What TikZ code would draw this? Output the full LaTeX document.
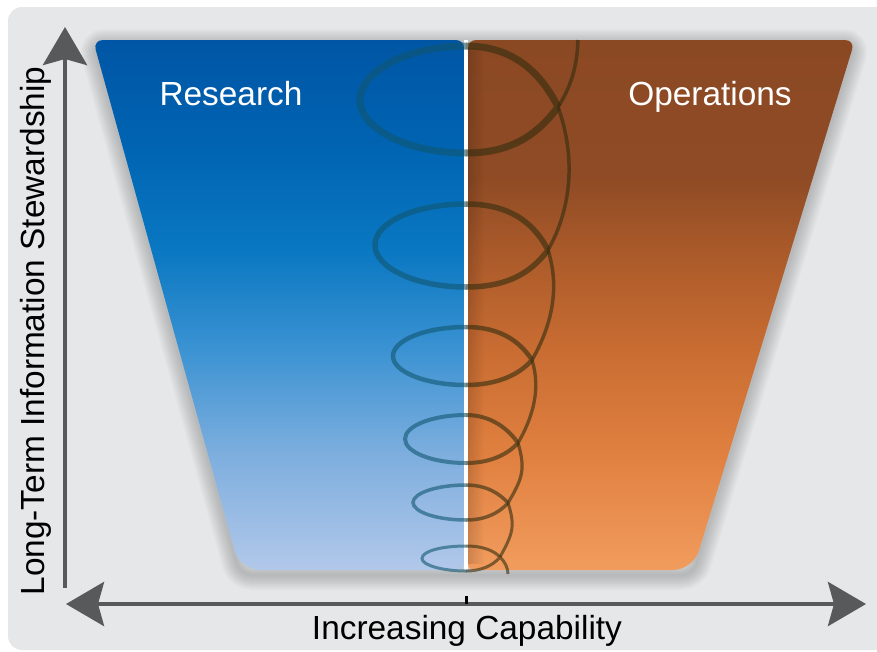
\documentclass[tikz,border=0pt]{standalone}
\usepackage{fontspec}
\setmainfont{Liberation Sans}
\usetikzlibrary{arrows.meta,fadings}

\definecolor{panelgray}{HTML}{E6E7E8}
\definecolor{axisgray}{HTML}{58595B}
\definecolor{coilteal}{HTML}{105670}
\definecolor{coilbrown}{HTML}{322D0F}

% y = 40 at 75bp, y = 570 at 25bp
\pgfdeclareverticalshading{researchfade}{100bp}{%
	color(0bp)=(rgb,255:red,178;green,200;blue,234);
	color(25bp)=(rgb,255:red,178;green,200;blue,234);
	color(36bp)=(rgb,255:red,125;green,174;blue,222);
	color(46bp)=(rgb,255:red,58;green,146;blue,210);
	color(55bp)=(rgb,255:red,10;green,120;blue,194);
	color(65bp)=(rgb,255:red,0;green,100;blue,178);
	color(75bp)=(rgb,255:red,0;green,86;blue,165);
	color(100bp)=(rgb,255:red,0;green,86;blue,165)}
\pgfdeclareverticalshading{opsfade}{100bp}{%
	color(0bp)=(rgb,255:red,241;green,156;blue,94);
	color(25bp)=(rgb,255:red,241;green,156;blue,94);
	color(36bp)=(rgb,255:red,224;green,128;blue,64);
	color(46bp)=(rgb,255:red,200;green,108;blue,50);
	color(55bp)=(rgb,255:red,170;green,90;blue,42);
	color(62bp)=(rgb,255:red,143;green,75;blue,37);
	color(75bp)=(rgb,255:red,139;green,73;blue,35);
	color(100bp)=(rgb,255:red,139;green,73;blue,35)}
\tikzfading[name=edgefade, left color=transparent!0, right color=transparent!100]

\tikzset{
	axisline/.style={axisgray, line width=4.5pt, -{Stealth[length=38pt, width=44pt, inset=6pt]}},
	bigtext/.style={font=\fontsize{33.4pt}{40pt}\selectfont, anchor=base},
	panellabel/.style={bigtext, text=white},
}

% the coil, drawn once per half
\newcommand\coilpath{%
	\draw[line width=3.5pt] (578,40) .. controls (577,65) and (572,85) .. (558,107);
	\draw[line width=7pt] (558,107) .. controls (537,135) and (511,153) .. (466,153)
		.. controls (408,153) and (360,129) .. (360,100)
		.. controls (360,71) and (408,46) .. (466,46)
		.. controls (515,46) and (542,75) .. (558,107);
	\draw[line width=3.5pt] (558,107) .. controls (575,154) and (573,206) .. (548,250);
	\draw[line width=5.5pt] (548,250) .. controls (530,274) and (506,287) .. (466,287)
		.. controls (416,287) and (375,268) .. (375,245)
		.. controls (375,222) and (416,204) .. (466,204)
		.. controls (510,204) and (534,223) .. (548,250);
	\draw[line width=3.5pt] (548,250) .. controls (560,288) and (552,325) .. (532,360);
	\draw[line width=4.5pt] (532,360) .. controls (518,376) and (495,385) .. (466,385)
		.. controls (426,385) and (393,372) .. (393,356)
		.. controls (393,340) and (426,327) .. (466,327)
		.. controls (502,327) and (521,343) .. (532,360);
	\draw[line width=3.3pt] (532,360) .. controls (541,389) and (533,417) .. (518,443);
	\draw[line width=4pt] (518,443) .. controls (506,456) and (488,463) .. (466,463)
		.. controls (432,463) and (405,452) .. (405,439)
		.. controls (405,426) and (432,415) .. (466,415)
		.. controls (492,415) and (509,430) .. (518,443);
	\draw[line width=3.2pt] (518,443) .. controls (526,470) and (522,479) .. (508,503);
	\draw[line width=3.5pt] (508,503) .. controls (498,514) and (484,520) .. (466,520)
		.. controls (437,520) and (413,512) .. (413,502.5)
		.. controls (413,493) and (437,485) .. (466,485)
		.. controls (487,485) and (500,494) .. (508,503);
	\draw[line width=3pt] (508,503) .. controls (516,527) and (512,535) .. (500,557);
	\draw[line width=3pt] (500,557) .. controls (493,566) and (480,571) .. (466,571)
		.. controls (442,571) and (422,565) .. (422,558.5)
		.. controls (422,551) and (442,546) .. (466,546)
		.. controls (484,546) and (494,551) .. (500,557)
		.. controls (505,562) and (508,568) .. (508,574);
}

\begin{document}
\begin{tikzpicture}[x=1pt, y=-1pt]
	\useasboundingbox (0,0) rectangle (877,651);
	\fill[panelgray, rounded corners=14pt] (8,7) rectangle (900,650);

	% soft shadow under the funnel
	\foreach \w in {3,6,...,30}
		\draw[black, opacity=.018, line width=\w pt, rounded corners=12pt] (93,44) -- (855,44) -- (693,575) -- (240,575) -- cycle;

	\shade[shading=researchfade]
		(300,40) [rounded corners=10pt] -- (93,40) [rounded corners=20pt] -- (240,570) [rounded corners=6pt] -- (464,570) [rounded corners=8pt] -- (464,40) -- cycle;
	\shade[shading=opsfade]
		(600,40) [rounded corners=10pt] -- (855,40) [rounded corners=20pt] -- (693,570) [rounded corners=6pt] -- (468,570) [rounded corners=8pt] -- (468,40) -- cycle;
	\fill[black, opacity=.14, path fading=edgefade] (468,48) rectangle (484,564);

	\coordinate (split-top) at (466,40);
	\coordinate (split-bot) at (466,570);
	\draw[white, line width=4pt] (split-top) -- (split-bot);

	\begin{scope}
		\clip (0,0) rectangle (466,651);
		\begin{scope}[color=coilteal, opacity=.6]
			\coilpath
		\end{scope}
	\end{scope}
	\begin{scope}
		\clip (466,0) rectangle (877,651);
		\begin{scope}[color=coilbrown, opacity=.6]
			\coilpath
		\end{scope}
	\end{scope}

	\node[panellabel] (research) at (231,105) {Research};
	\node[panellabel] (operations) at (710,105) {Operations};

	% axes
	\coordinate (vaxis-bot) at (65,588);
	\coordinate (vaxis-top) at (65,27);
	\coordinate (haxis-left) at (66,604);
	\coordinate (haxis-right) at (866,604);
	\coordinate (tick-top) at (466,596);
	\coordinate (tick-bot) at (466,604);
	\draw[axisline] (vaxis-bot) -- (vaxis-top);
	\draw[axisline, {Stealth[length=38pt, width=44pt, inset=6pt]}-{Stealth[length=38pt, width=44pt, inset=6pt]}] (haxis-left) -- (haxis-right);
	\draw[black, line width=3pt] (tick-top) -- (tick-bot);

	\node[bigtext] (capability) at (467,639) {Increasing Capability};
	\node[bigtext, rotate=90] (stewardship) at (44,331) {Long-Term Information Stewardship};
\end{tikzpicture}
\end{document}
